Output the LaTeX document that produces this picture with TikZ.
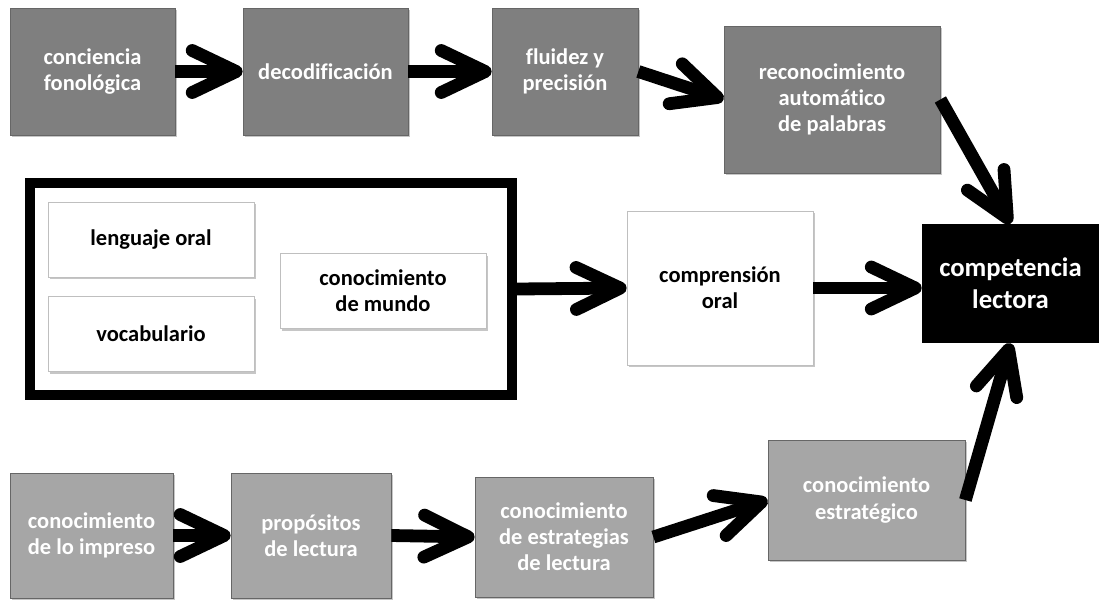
\documentclass[tikz,border=0pt]{standalone}
\usepackage{fontspec}
\setmainfont{Carlito}[Ligatures=NoCommon]
\usepackage{tikz}
\usetikzlibrary{arrows.meta}
\usetikzlibrary{positioning}
\usetikzlibrary{shadows}

\definecolor{boxdark}{HTML}{7F7F7F}
\definecolor{boxlight}{HTML}{A6A6A6}

\begin{document}
\begin{tikzpicture}[x=0.025cm, y=-0.025cm]
				\tikzset{box/.style = {shape=rectangle, draw=black!60, line width=0.5pt,
						align=center, inner sep=2pt,
						font=\bfseries\fontsize{16}{18.5}\selectfont,
						drop shadow={shadow xshift=1.5pt, shadow yshift=-1.5pt, opacity=0.45}}}
				\tikzset{darkbox/.style = {box, fill=boxdark, text=white}}
				\tikzset{lightbox/.style = {box, fill=boxlight, text=white}}
				\tikzset{whitebox/.style = {box, fill=white, draw=black!25, text=black}}
				\tikzset{edge/.style = {-{Straight Barb[length=1.1cm, width=1.05cm, round]}, line width=0.32cm}}
				
				\useasboundingbox (0,0) rectangle (1099,600);
				
				% vertices
				\node[darkbox, minimum width=4.125cm, minimum height=3.175cm] (cf) at (92.5,71.5) {conciencia\\fonológica};
				\node[darkbox, minimum width=4.125cm, minimum height=3.175cm] (dec) at (325.5,71.5) {decodificación};
				\node[darkbox, minimum width=3.65cm, minimum height=3.175cm] (flu) at (565,71.5) {fluidez y\\precisión};
				\node[darkbox, minimum width=5.4cm, minimum height=3.675cm] (rec) at (832,99.5) {reconocimiento\\automático\\de palabras};
				
				\node[draw, line width=0.25cm, minimum width=12.05cm, minimum height=5.3cm] (ol) at (271,289) {};
				\node[whitebox, minimum width=5.15cm, minimum height=1.875cm] (len) at (151,239.5) {lenguaje oral};
				\node[whitebox, minimum width=5.15cm, minimum height=1.875cm] (voc) at (151,334) {vocabulario};
				\node[whitebox, minimum width=5.15cm, minimum height=1.875cm] (mun) at (383,291) {conocimiento\\de mundo};
				\node[whitebox, minimum width=4.65cm, minimum height=3.85cm] (com) at (720,288) {comprensión\\oral};
				\node[fill=black, text=white, align=center, font=\bfseries\fontsize{19}{23}\selectfont,
					minimum width=4.425cm, minimum height=2.975cm] (cl) at (1010.5,283.5) {competencia\\lectora};
				
				\node[lightbox, minimum width=4.075cm, minimum height=3.125cm] (imp) at (91.5,535.5) {conocimiento\\de lo impreso};
				\node[lightbox, minimum width=4cm, minimum height=3.125cm] (pro) at (311,535.5) {propósitos\\de lectura};
				\node[lightbox, minimum width=4.45cm, minimum height=3cm] (est) at (564,537) {conocimiento\\de estrategias\\de lectura};
				\node[lightbox, minimum width=4.925cm, minimum height=3cm] (estr) at (866.5,500) {conocimiento\\estratégico};
				
				%edges
				\draw[edge] (cf) to (dec);
				\draw[edge] (dec) to (flu);
				\draw[edge] (flu.east) to (rec.west);
				\draw[edge] (rec.east) to (cl.north);
				\draw[edge] (ol.east) to (com.west);
				\draw[edge] (com.east) to (com.east -| cl.west);
				\draw[edge] (imp) to (pro);
				\draw[edge] (pro.east) to (est.west);
				\draw[edge] (est.east) to (estr.west);
				\draw[edge] (estr.east) to (cl.south);
				
\end{tikzpicture}
\end{document}
